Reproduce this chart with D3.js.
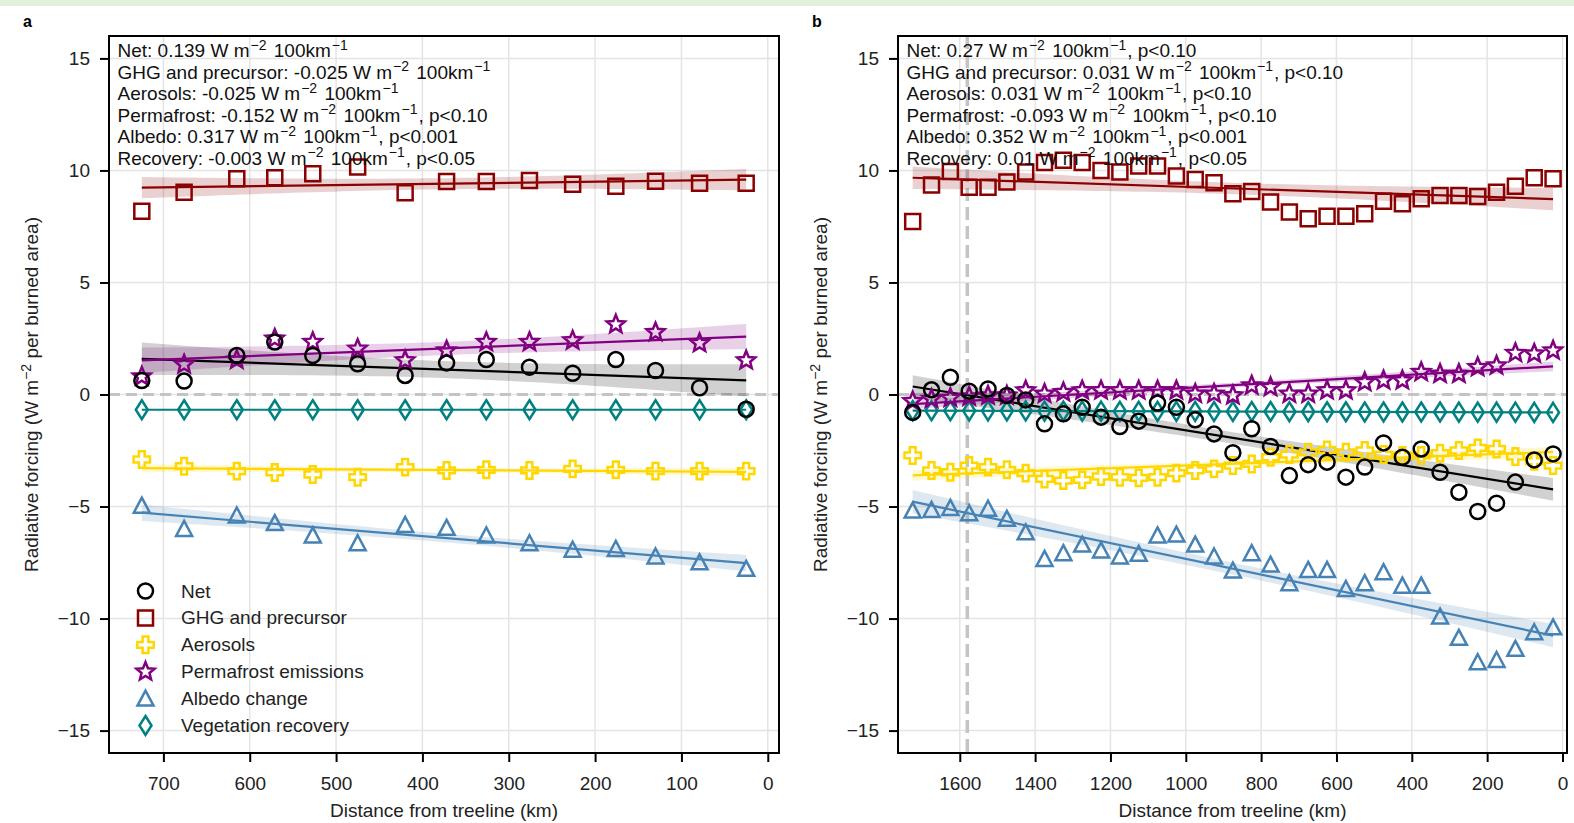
<!DOCTYPE html>
<html><head><meta charset="utf-8">
<script src="https://cdn.jsdelivr.net/npm/d3@7"></script>
<style>
body{margin:0;background:#fff;}
svg{display:block;font-family:"Liberation Sans",Arial,Helvetica,sans-serif;}
text{white-space:pre;}
</style>
</head><body>
<svg id="chart" width="1574" height="823"></svg>
<script>
// ---------- data ----------
const seriesNames = ["Net","GHG and precursor","Aerosols","Permafrost emissions","Albedo change","Vegetation recovery"];
const seriesColors = ["#000000","#8b0000","#ffd700","#800080","#4682b4","#008080"];
const seriesShapes = ["circle","square","plus","star","triangle","diamond"];

const xTicksA = [700,600,500,400,300,200,100,0];
const xTicksB = [1600,1400,1200,1000,800,600,400,200,0];
const yTicks = [15,10,5,0,-5,-10,-15];

const distA = [725,676,615,571,527,475,420,372,326,276,226,176,130,79,25];
const netA = [0.62,0.60,1.74,2.34,1.74,1.37,0.85,1.41,1.56,1.22,0.95,1.56,1.07,0.30,-0.66];
const ghgA = [8.18,9.03,9.63,9.67,9.85,10.15,9.0,9.51,9.51,9.55,9.38,9.29,9.52,9.43,9.43];
const aerA = [-2.9,-3.2,-3.42,-3.48,-3.57,-3.69,-3.24,-3.39,-3.36,-3.39,-3.32,-3.36,-3.42,-3.42,-3.42];
const pfA = [0.8,1.34,1.55,2.49,2.34,2.04,1.52,1.96,2.34,2.34,2.41,3.13,2.78,2.29,1.52];
const albA = [-4.96,-6.0,-5.4,-5.74,-6.29,-6.64,-5.82,-5.95,-6.29,-6.64,-6.93,-6.89,-7.23,-7.49,-7.78];
const vegA = [-0.68,-0.68,-0.68,-0.68,-0.68,-0.68,-0.68,-0.68,-0.68,-0.68,-0.68,-0.68,-0.68,-0.68,-0.68];

const distB = [1725,1675,1625,1575,1525,1475,1425,1375,1325,1275,1225,1175,1125,1075,1025,975,925,875,825,775,725,675,625,575,525,475,425,375,325,275,225,175,125,75,25];
const netB = [-0.8,0.21,0.77,0.15,0.25,-0.04,-0.24,-1.31,-0.86,-0.57,-1.01,-1.43,-1.19,-0.38,-0.57,-1.13,-1.76,-2.6,-1.53,-2.32,-3.62,-3.13,-3.02,-3.69,-3.24,-2.16,-2.8,-2.43,-3.47,-4.36,-5.22,-4.85,-3.91,-2.92,-2.65];
const ghgB = [7.72,9.35,9.95,9.25,9.25,9.48,9.93,10.35,10.45,10.35,10.0,9.93,10.2,10.2,9.75,9.6,9.45,8.96,9.06,8.59,8.14,7.84,7.95,7.95,8.07,8.63,8.51,8.74,8.88,8.88,8.84,9.03,9.29,9.67,9.63];
const aerB = [-2.72,-3.39,-3.47,-3.17,-3.24,-3.36,-3.51,-3.77,-3.84,-3.81,-3.66,-3.69,-3.72,-3.69,-3.51,-3.39,-3.32,-3.17,-3.1,-2.8,-2.68,-2.58,-2.47,-2.58,-2.5,-2.68,-2.72,-2.72,-2.62,-2.5,-2.38,-2.43,-2.77,-2.98,-3.17];
const pfB = [-0.3,-0.2,-0.15,-0.1,-0.05,-0.05,0.18,0.03,0.1,0.18,0.18,0.18,0.18,0.18,0.18,0.03,0.03,-0.04,0.4,0.33,0.03,0.03,0.18,0.18,0.55,0.63,0.63,1.0,0.92,0.92,1.22,1.29,1.85,1.82,1.96];
const albB = [-5.18,-5.15,-5.06,-5.3,-5.1,-5.55,-6.15,-7.34,-7.08,-6.7,-6.96,-7.23,-7.11,-6.29,-6.25,-6.7,-7.23,-7.86,-7.08,-7.59,-8.42,-7.83,-7.83,-8.68,-8.42,-7.93,-8.53,-8.53,-9.91,-10.86,-11.95,-11.85,-11.35,-10.61,-10.39];
const vegB = [-0.72,-0.72,-0.72,-0.73,-0.73,-0.73,-0.73,-0.74,-0.74,-0.74,-0.74,-0.75,-0.75,-0.75,-0.75,-0.75,-0.76,-0.76,-0.76,-0.76,-0.77,-0.77,-0.77,-0.77,-0.78,-0.78,-0.78,-0.78,-0.78,-0.79,-0.79,-0.79,-0.79,-0.8,-0.8];

const statNames = ["Net","GHG and precursor","Aerosols","Permafrost","Albedo","Recovery"];
const statValsA = ["0.139","-0.025","-0.025","-0.152","0.317","-0.003"];
const statPA = ["","","","p<0.10","p<0.001","p<0.05"];
const statValsB = ["0.27","0.031","0.031","-0.093","0.352","0.01"];
const statPB = ["p<0.10","p<0.10","p<0.10","p<0.10","p<0.001","p<0.05"];
const treelineMarkB = 1580;

// ---------- drawing ----------
const W = 1574, H = 823;
const TOP = 36, BOTTOM = 753;
const FS = 19, SUP = 14;
const svg = d3.select("#chart");
svg.append("rect").attr("x",0).attr("y",0).attr("width",W).attr("height",6).attr("fill","#e2efd9");

const y = d3.scaleLinear().domain([-16,16]).range([BOTTOM,TOP]);
const fmtY = d => d < 0 ? "\u2212" + Math.abs(d) : String(d);

function regression(xs, ys){
  const n = xs.length, mx = d3.mean(xs), my = d3.mean(ys);
  let sxx = 0, sxy = 0;
  xs.forEach((x,i)=>{ sxx += (x-mx)**2; sxy += (x-mx)*(ys[i]-my); });
  const b = sxy/sxx, a = my - b*mx;
  let sse = 0;
  xs.forEach((x,i)=>{ const r = ys[i]-(a+b*x); sse += r*r; });
  const s = Math.sqrt(sse/(n-2));
  const t = n <= 15 ? 2.16 : 2.035;
  return { f: x => a + b*x, ci: x => t*s*Math.sqrt(1/n + (x-mx)**2/sxx) };
}

function markerPath(shape){
  switch(shape){
    case "circle": return "M7.5,0A7.5,7.5 0 1,1 -7.5,0A7.5,7.5 0 1,1 7.5,0Z";
    case "square": return "M-7.5,-7.5H7.5V7.5H-7.5Z";
    case "plus": { const a=2.9, e=8.2;
      return `M${-a},${-e}H${a}V${-a}H${e}V${a}H${a}V${e}H${-a}V${a}H${-e}V${-a}H${-a}Z`; }
    case "star": { const pts=[]; for(let k=0;k<10;k++){ const r = k%2===0?9.5:4.2; const ang = -Math.PI/2 + k*Math.PI/5; pts.push([r*Math.cos(ang), r*Math.sin(ang)]); }
      return "M" + pts.map(p=>p[0].toFixed(2)+","+p[1].toFixed(2)).join("L") + "Z"; }
    case "triangle": return "M0,-8L8,7L-8,7Z";
    case "diamond": return "M0,-9.5L6,0L0,9.5L-6,0Z";
  }
}

function addUnits(t, prefix, suffix, sup){
  t.append("tspan").text(prefix);
  t.append("tspan").attr("dy",-7.5).attr("font-size",sup).text("\u22122");
  t.append("tspan").attr("dy",7.5).text(suffix);
}

function drawPanel(cfg){
  const x = d3.scaleLinear().domain(cfg.domain).range([cfg.x0, cfg.x1]);
  const g = svg.append("g");
  // grid
  g.append("g").selectAll("line").data(cfg.xTicks).join("line")
    .attr("x1",d=>x(d)).attr("x2",d=>x(d)).attr("y1",TOP).attr("y2",BOTTOM)
    .attr("stroke","#e4e4e4").attr("stroke-width",1.5);
  g.append("g").selectAll("line").data(yTicks).join("line")
    .attr("x1",cfg.x0).attr("x2",cfg.x1).attr("y1",d=>y(d)).attr("y2",d=>y(d))
    .attr("stroke","#e4e4e4").attr("stroke-width",1.5);
  // reference lines
  g.append("line").attr("x1",cfg.x0).attr("x2",cfg.x1).attr("y1",y(0)).attr("y2",y(0))
    .attr("stroke","#c4c4c4").attr("stroke-width",3).attr("stroke-dasharray","11,6");
  if (cfg.vline !== undefined){
    g.append("line").attr("x1",x(cfg.vline)).attr("x2",x(cfg.vline)).attr("y1",TOP).attr("y2",BOTTOM)
      .attr("stroke","#c4c4c4").attr("stroke-width",3.5).attr("stroke-dasharray","13,6");
  }
  // regressions
  const fits = cfg.series.map(ys => regression(cfg.dist, ys));
  const xmin = d3.min(cfg.dist), xmax = d3.max(cfg.dist);
  const samples = d3.range(0, 61).map(i => xmin + (xmax-xmin)*i/60);
  fits.forEach((fit,i)=>{
    const area = d3.area().x(d=>x(d)).y0(d=>y(fit.f(d)-fit.ci(d))).y1(d=>y(fit.f(d)+fit.ci(d)));
    g.append("path").attr("d",area(samples)).attr("fill",seriesColors[i]).attr("fill-opacity",0.18);
  });
  fits.forEach((fit,i)=>{
    g.append("line").attr("x1",x(xmin)).attr("x2",x(xmax)).attr("y1",y(fit.f(xmin))).attr("y2",y(fit.f(xmax)))
      .attr("stroke",seriesColors[i]).attr("stroke-width",2.2);
  });
  // markers (net last)
  const order = [5,4,3,2,1,0];
  order.forEach(i=>{
    g.append("g").selectAll("path").data(cfg.series[i].map((v,k)=>[cfg.dist[k],v])).join("path")
      .attr("d",markerPath(seriesShapes[i]))
      .attr("transform",d=>`translate(${x(d[0])},${y(d[1])})`)
      .attr("fill","none").attr("stroke",seriesColors[i]).attr("stroke-width",2.5);
  });
  // box
  g.append("rect").attr("x",cfg.x0).attr("y",TOP).attr("width",cfg.x1-cfg.x0).attr("height",BOTTOM-TOP)
    .attr("fill","none").attr("stroke","#000").attr("stroke-width",2);
  // axes
  const ax = g.append("g").attr("transform",`translate(0,${BOTTOM})`)
    .call(d3.axisBottom(x).tickValues(cfg.xTicks).tickSize(9).tickPadding(15).tickFormat(d3.format("d")));
  const ay = g.append("g").attr("transform",`translate(${cfg.x0},0)`)
    .call(d3.axisLeft(y).tickValues(yTicks).tickSize(9).tickPadding(10).tickFormat(fmtY));
  [ax, ay].forEach(a=>{
    a.select(".domain").remove();
    a.selectAll(".tick line").attr("stroke","#000").attr("stroke-width",2);
    a.selectAll(".tick text").attr("font-size",FS).attr("fill","#222").attr("font-family","Liberation Sans, Arial, sans-serif");
  });
  // axis titles
  g.append("text").attr("x",(cfg.x0+cfg.x1)/2).attr("y",817).attr("text-anchor","middle")
    .attr("font-size",FS).attr("fill","#222").text("Distance from treeline (km)");
  const yl = g.append("text").attr("transform",`translate(${cfg.x0-71},${(TOP+BOTTOM)/2}) rotate(-90)`)
    .attr("text-anchor","middle").attr("font-size",FS).attr("fill","#222");
  addUnits(yl, "Radiative forcing (W m", " per burned area)", SUP);
  // panel letter
  g.append("text").attr("x",cfg.x0-86).attr("y",27).attr("font-size",16).attr("font-weight","bold").text(cfg.letter);
  // stats
  statNames.forEach((nm,i)=>{
    const t = g.append("text").attr("x",cfg.x0+8.5).attr("y",57+i*21.5).attr("font-size",FS).attr("fill","#111");
    t.append("tspan").text(`${nm}: ${cfg.statVals[i]} W m`);
    t.append("tspan").attr("dx",1).attr("dy",-7.5).attr("font-size",SUP).text("\u22122");
    t.append("tspan").attr("dx",2).attr("dy",7.5).text(" 100km");
    t.append("tspan").attr("dx",1).attr("dy",-7.5).attr("font-size",SUP).text("\u22121");
    t.append("tspan").attr("dx",1).attr("dy",7.5).text(cfg.statP[i] ? ", " + cfg.statP[i] : "");
  });
  return g;
}

const gA = drawPanel({x0:109, x1:779, domain:[763,-13], xTicks:xTicksA, dist:distA,
  series:[netA,ghgA,aerA,pfA,albA,vegA], statVals:statValsA, statP:statPA, letter:"a"});
drawPanel({x0:898, x1:1567, domain:[1764,-12], xTicks:xTicksB, dist:distB,
  series:[netB,ghgB,aerB,pfB,albB,vegB], statVals:statValsB, statP:statPB, letter:"b", vline:treelineMarkB});

// legend (panel a)
const leg = gA.append("g");
seriesNames.forEach((nm,i)=>{
  const cy = 591 + i*26.9;
  leg.append("path").attr("d",markerPath(seriesShapes[i])).attr("transform",`translate(145.5,${cy})`)
    .attr("fill","none").attr("stroke",seriesColors[i]).attr("stroke-width",2.5);
  leg.append("text").attr("x",181).attr("y",cy+6.5).attr("font-size",FS).attr("fill","#222").text(nm);
});
</script>
</body></html>
